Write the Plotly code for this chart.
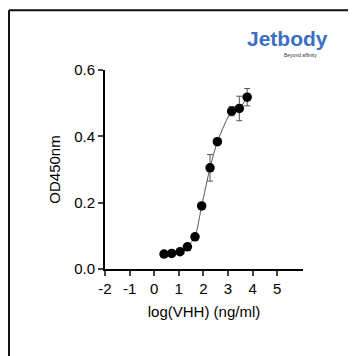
import plotly.graph_objects as go

log_conc = [0.40, 0.71, 1.05, 1.35, 1.66, 1.93, 2.27, 2.57, 3.15, 3.46, 3.78]
od450 = [0.045, 0.047, 0.052, 0.067, 0.097, 0.19, 0.305, 0.384, 0.476, 0.484, 0.518]
od_err = [0.004, 0.004, 0.004, 0.005, 0.006, 0.008, 0.040, 0.010, 0.014, 0.037, 0.026]
x_ticks = [-2, -1, 0, 1, 2, 3, 4, 5]
x_tick_labels = ["-2", "-1", "0", "1", "2", "3", "4", "5"]
y_ticks = [0.0, 0.2, 0.4, 0.6]
y_tick_labels = ["0.0", "0.2", "0.4", "0.6"]

FONT = "Liberation Sans, Arial, sans-serif"

fig = go.Figure()
# fitted curve (smooth line through points)
fig.add_trace(go.Scatter(
    x=log_conc[3:], y=od450[3:], mode="lines",
    line=dict(color="#555555", width=1, shape="spline", smoothing=0.6),
    hoverinfo="skip", showlegend=False))
fig.add_trace(go.Scatter(
    x=log_conc, y=od450, mode="markers",
    marker=dict(color="black", size=9.5),
    error_y=dict(type="data", array=od_err, color="#555555", thickness=1, width=3),
    showlegend=False))

fig.update_layout(
    width=348, height=348,
    margin=dict(l=97, r=53, t=62, b=87),
    paper_bgcolor="white", plot_bgcolor="white",
    font=dict(family=FONT, color="black", size=15),
    xaxis=dict(range=[-2, 6.05], tickvals=x_ticks, ticktext=x_tick_labels,
               ticks="outside", ticklen=5,
               tickwidth=1.5, showline=True, linecolor="black", linewidth=1.8,
               showgrid=False, zeroline=False, tickfont=dict(size=15),
               title=dict(text="log(VHH) (ng/ml)", font=dict(size=15), standoff=11)),
    yaxis=dict(range=[0, 0.6], tickvals=y_ticks, ticktext=y_tick_labels,
               ticks="outside", ticklen=5, tickwidth=1.5, showline=True,
               linecolor="black", linewidth=1.8, showgrid=False, zeroline=False,
               tickfont=dict(size=15),
               title=dict(text="OD450nm", font=dict(size=15), standoff=10)),
    shapes=[
        dict(type="line", xref="paper", yref="paper", x0=-0.485, x1=1.3, y0=1.30,
             y1=1.30, line=dict(color="#111111", width=2)),
        dict(type="line", xref="paper", yref="paper", x0=-0.485, x1=-0.485,
             y0=1.30, y1=-0.5, line=dict(color="#111111", width=2)),
    ],
    annotations=[
        dict(text="<b>Jetbody</b>", xref="paper", yref="paper", x=0.924, y=1.16,
             xanchor="center", yanchor="middle", showarrow=False,
             font=dict(size=21, color="#3b6fc4", family=FONT)),
        dict(text="Beyond affinity", xref="paper", yref="paper", x=0.985, y=1.075,
             xanchor="center", yanchor="middle", showarrow=False,
             font=dict(size=5, color="#333333", family=FONT)),
    ],
)

fig.write_html("out.html")
